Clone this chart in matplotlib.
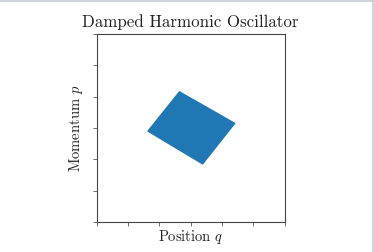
import matplotlib
matplotlib.use("Agg")
import matplotlib.pyplot as plt
from matplotlib.lines import Line2D

plt.rcParams['font.family'] = ['cmr10', 'DejaVu Serif']
plt.rcParams['mathtext.fontset'] = 'cm'
plt.rcParams['axes.formatter.use_mathtext'] = True

# corners of the evolved phase-space region (q, p)
corner_q = [-0.36, 1.41, 0.38, -1.37]
corner_p = [1.16, 0.15, -1.15, -0.10]
ticks = [-3, -2, -1, 0, 1, 2, 3]

fig = plt.figure(figsize=(3.74, 2.52), dpi=100)
ax = fig.add_axes([0.2586, 0.119, 0.5027, 0.746])

ax.fill(corner_q, corner_p, color='#1f77b4', lw=0.8, ec='#1f77b4')
ax.set_xlim(-3, 3)
ax.set_ylim(-3, 3)
ax.set_xticks(ticks)
ax.set_yticks(ticks)
ax.set_xticklabels([])
ax.set_yticklabels([])
ax.tick_params(length=3, width=0.6, color='#555555')
for s in ax.spines.values():
    s.set_color('#444444')
    s.set_linewidth(0.8)

ax.set_title('Damped Harmonic Oscillator', fontsize=12.2, pad=5, color='#222222')
ax.set_xlabel('Position $q$', fontsize=10.5, color='#222222')
ax.set_ylabel('Momentum $p$', fontsize=10.5, color='#222222')
ax.xaxis.set_label_coords(0.5, -0.03)
ax.yaxis.set_label_coords(-0.06, 0.5)

# light border of the screenshot
fig.add_artist(Line2D([0, 1], [0.997, 0.997], color='#c8ccd4', lw=1.2, transform=fig.transFigure))
fig.add_artist(Line2D([0.998, 0.998], [0, 1], color='#c8ccd4', lw=1.2, transform=fig.transFigure))

fig.savefig('out.png', dpi=100)
